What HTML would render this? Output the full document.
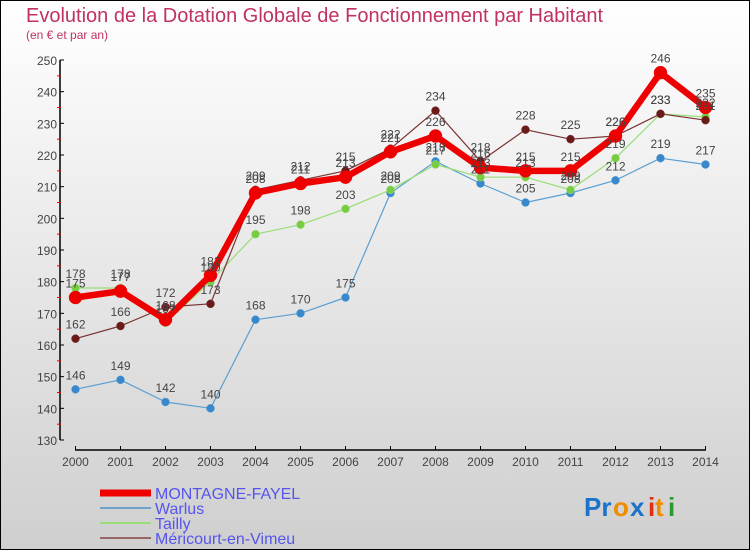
<!DOCTYPE html>
<html><head><meta charset="utf-8"><style>
body{margin:0;width:750px;height:550px;overflow:hidden;font-family:"Liberation Sans",sans-serif}
</style></head><body>
<svg width="750" height="550" xmlns="http://www.w3.org/2000/svg">
<defs><linearGradient id="bg" x1="0" y1="0" x2="0" y2="1"><stop offset="0" stop-color="#ffffff"/><stop offset="1" stop-color="#cfcfcf"/></linearGradient></defs>
<rect x="0.5" y="0.5" width="749" height="549" fill="url(#bg)" stroke="#000"/>
<text x="26" y="22" font-size="20" fill="#c0325f">Evolution de la Dotation Globale de Fonctionnement par Habitant</text>
<text x="26" y="39" font-size="12" fill="#c0325f">(en € et par an)</text>
<g id="axes"></g><g id="series"></g><g id="labels"></g>
<g>
<line x1="100" y1="493" x2="151" y2="493" stroke="#e00" stroke-width="7"/>
<text x="155" y="499" font-size="16" fill="#5555ee">MONTAGNE-FAYEL</text>
<line x1="100" y1="508" x2="151" y2="508" stroke="#6fa3cc" stroke-width="2"/>
<text x="155" y="514" font-size="16" fill="#5555ee">Warlus</text>
<line x1="100" y1="523" x2="151" y2="523" stroke="#99dd77" stroke-width="2"/>
<text x="155" y="529" font-size="16" fill="#5555ee">Tailly</text>
<line x1="100" y1="538" x2="151" y2="538" stroke="#996666" stroke-width="2"/>
<text x="155" y="544" font-size="16" fill="#5555ee">Méricourt-en-Vimeu</text>
</g>
<g font-size="26" font-weight="bold">
<text x="584" y="516" fill="#1a73c8">Pr</text><text x="613" y="516" fill="#f08c00">o</text><text x="630" y="516" fill="#1a73c8">x</text><text x="648" y="516" fill="#e03010">i</text><text x="655" y="516" fill="#f08c00">t</text><text x="668" y="516" fill="#2a9a30">i</text>
</g>
</svg>
<script>
const years=[2000,2001,2002,2003,2004,2005,2006,2007,2008,2009,2010,2011,2012,2013,2014];
const yTicks=[130,140,150,160,170,180,190,200,210,220,230,240,250];
const montagne=[175,177,168,182,208,211,213,221,226,216,215,215,226,246,235];
const warlus=[146,149,142,140,168,170,175,208,218,211,205,208,212,219,217];
const tailly=[178,178,167,180,195,198,203,209,217,213,213,209,219,233,232];
const mericourt=[162,166,172,173,209,212,215,222,234,218,228,225,226,233,231];
const NS="http://www.w3.org/2000/svg";
const X=i=>75.5+i*(705.5-75.5)/(years.length-1);
const Y=v=>440-(v-130)*(380/120);
function mk(t,a,p){const e=document.createElementNS(NS,t);for(const k in a)e.setAttribute(k,a[k]);p.appendChild(e);return e;}
const ax=document.getElementById('axes');
mk('line',{x1:60,y1:60,x2:60,y2:440,stroke:'#000','stroke-width':1.5},ax);
mk('line',{x1:75,y1:450,x2:706,y2:450,stroke:'#000','stroke-width':1.5},ax);
yTicks.forEach((v,i)=>{
 mk('line',{x1:60,y1:Y(v),x2:64,y2:Y(v),stroke:'#000'},ax);
 if(i<yTicks.length-1) mk('line',{x1:57,y1:Y(v+5),x2:61,y2:Y(v+5),stroke:'#e00'},ax);
 const t=mk('text',{x:57,y:Y(v)+5,'font-size':12,fill:'#444','text-anchor':'end'},ax);
 t.textContent=v;
 
 
});
years.forEach((yr,i)=>{
 mk('line',{x1:X(i),y1:446,x2:X(i),y2:450,stroke:'#000'},ax);
 const t=mk('text',{x:X(i),y:466,'font-size':12,fill:'#444','text-anchor':'middle'},ax);
 t.textContent=yr;
 
 
});
const sg=document.getElementById('series'),lg=document.getElementById('labels');
function series(data,color,dot,w,r,name){
 const g=mk('g',{},sg);
 
 
 mk('polyline',{points:data.map((v,i)=>X(i)+','+Y(v)).join(' '),fill:'none',stroke:color,'stroke-width':w,'stroke-linejoin':'round'},g);
 data.forEach((v,i)=>{
  const c=mk('circle',{cx:X(i),cy:Y(v),r:r,fill:dot,stroke:color,'stroke-width':0.5},g);
  
  
  const t=mk('text',{x:X(i),y:Y(v)-10,'font-size':12,fill:'#444','text-anchor':'middle'},lg);
  t.textContent=v;
  
  
 });
}
series(warlus,'#5a9fd4','#3a88cc',1.2,4,'warlus-series');
series(tailly,'#99dd77','#77cc44',1.2,4,'tailly-series');
series(mericourt,'#7a3333','#6b1a1a',1.2,4,'mericourt-series');
series(montagne,'#ee0000','#ee0000',6.5,6.5,'montagne-fayel-series');
</script>
</body></html>
